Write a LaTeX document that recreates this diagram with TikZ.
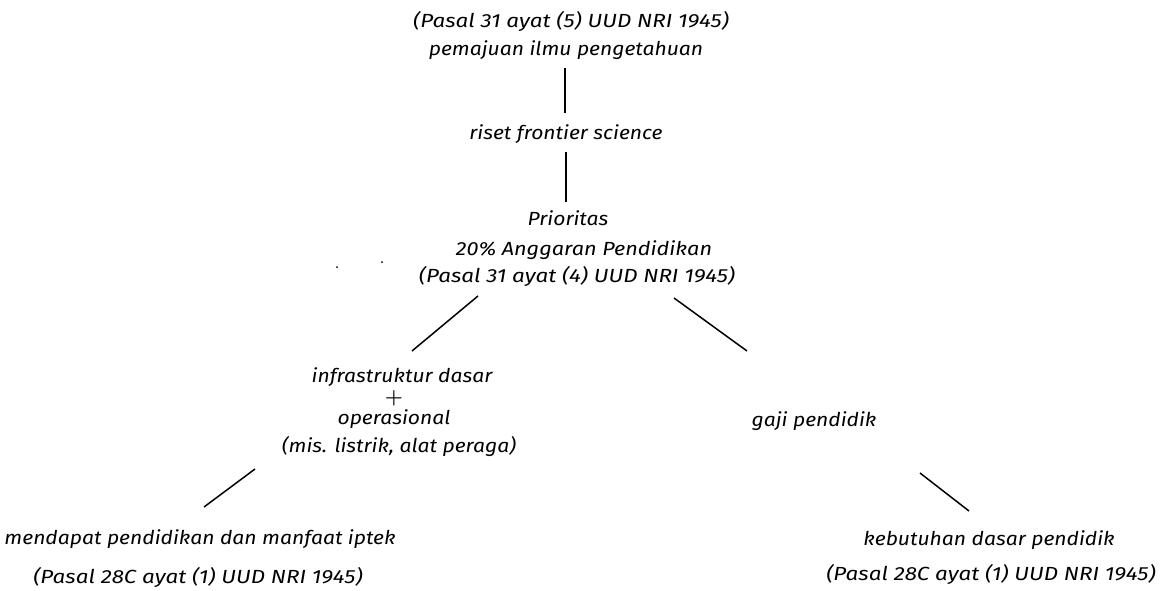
\documentclass[tikz,border=0pt]{standalone}
\usepackage{fontspec}
\setmainfont{Fira Sans}[FakeStretch=1.11]
\newfontfamily\pasalfont{Fira Sans}[FakeStretch=1.18]
\newfontfamily\midfont{Fira Sans}[FakeStretch=1.14]
\begin{document}
\begin{tikzpicture}[x=1pt,y=-1pt,
  lbl/.style={anchor=base,inner sep=0pt,font=\fontsize{19}{22}\selectfont\itshape},
  pasal/.style={lbl,font=\fontsize{19}{22}\selectfont\pasalfont\itshape},
  conn/.style={line width=1.5pt,black}]
\useasboundingbox (0,0) rectangle (1163,590);
\node[pasal] (p5) at (571,27) {(Pasal 31 ayat (5) UUD NRI 1945)};
\node[lbl] (pem) at (566,55) {pemajuan ilmu pengetahuan};
\node[lbl] (riset) at (566,139) {riset frontier science};
\node[lbl] (prio) at (568,225) {Prioritas};
\node[lbl,font=\fontsize{19}{22}\selectfont\midfont\itshape] (ang) at (584,255) {20\% Anggaran Pendidikan};
\node[pasal] (p4) at (577,282) {(Pasal 31 ayat (4) UUD NRI 1945)};
\node[lbl] (infra) at (402,382) {infrastruktur dasar};
\node[lbl,font=\fontsize{22}{22}\selectfont\boldmath] (plus) at (394,403.5) {$+$};
\node[lbl] (ops) at (394,424) {operasional};
\node[lbl] (mis) at (399,452) {(mis. listrik, alat peraga)};
\node[lbl] (gaji) at (814,426) {gaji pendidik};
\node[lbl] (mend) at (200,544) {mendapat pendidikan dan manfaat iptek};
\node[pasal] (p28l) at (198,583) {(Pasal 28C ayat (1) UUD NRI 1945)};
\node[lbl] (keb) at (989,545) {kebutuhan dasar pendidik};
\node[pasal] (p28r) at (991,580) {(Pasal 28C ayat (1) UUD NRI 1945)};
% connector end points
\coordinate (a1) at (565,68);  \coordinate (a2) at (565,113);
\coordinate (b1) at (566,152); \coordinate (b2) at (566,202);
\coordinate (c1) at (478,296); \coordinate (c2) at (412,351);
\coordinate (d1) at (674,298); \coordinate (d2) at (747,351);
\coordinate (e1) at (255,469); \coordinate (e2) at (204,507);
\coordinate (f1) at (920,473); \coordinate (f2) at (969,511);
\draw[conn] (a1) -- (a2);
\draw[conn] (b1) -- (b2);
\draw[conn] (c1) -- (c2);
\draw[conn] (d1) -- (d2);
\draw[conn] (e1) -- (e2);
\draw[conn] (f1) -- (f2);
\fill (337,267) circle (1pt);
\fill (382,262) circle (1pt);
\end{tikzpicture}
\end{document}
